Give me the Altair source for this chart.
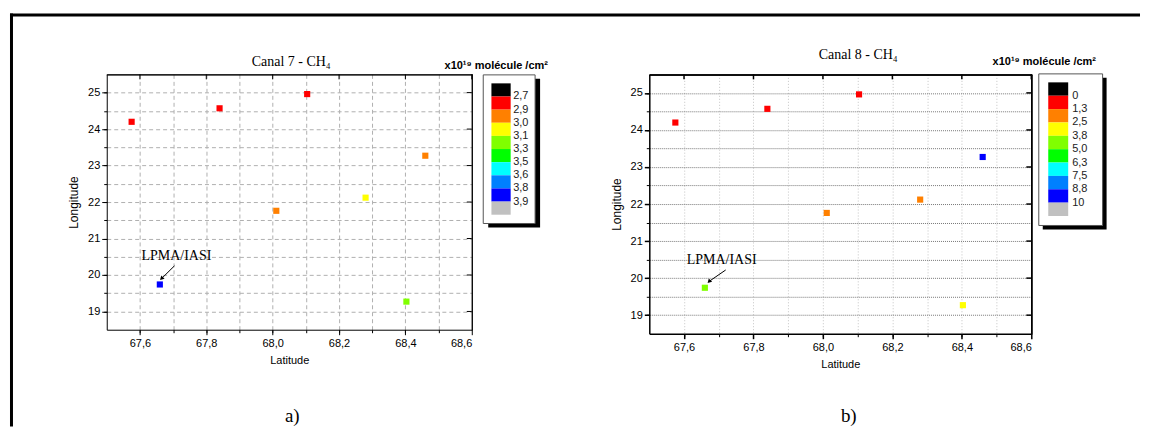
import altair as alt
import pandas as pd

# ---------------- data ----------------
LAT = [67.575, 67.84, 68.104, 68.46, 68.011, 68.28, 68.403, 67.66]
LON = [24.20, 24.57, 24.96, 23.27, 21.76, 22.12, 19.27, 19.74]
CLASS_A = [1, 1, 1, 2, 2, 3, 4, 8]
CLASS_B = [1, 1, 1, 8, 2, 2, 3, 4]
PALETTE = ["#000000", "#ff0000", "#ff8000", "#ffff00", "#80ff00",
           "#00ff00", "#00ffff", "#0080ff", "#0000ff", "#c0c0c0"]
CLASSES = list(range(10))
LABELS_A = ["2,7", "2,9", "3,0", "3,1", "3,3", "3,5", "3,6", "3,8", "3,9"]
LABELS_B = ["0", "1,3", "2,5", "3,8", "5,0", "6,3", "7,5", "8,8", "10"]
X_MAJOR = [67.6, 67.8, 68.0, 68.2, 68.4, 68.6]
X_MINOR = [67.6, 67.7, 67.8, 67.9, 68.0, 68.1, 68.2, 68.3, 68.4, 68.5]
Y_MAJOR = [19, 20, 21, 22, 23, 24, 25]
Y_MINOR = [19, 19.5, 20, 20.5, 21, 21.5, 22, 22.5, 23, 23.5, 24, 24.5, 25]
X_DOMAIN = [67.5, 68.6]
Y_DOMAIN = [18.5, 25.5]
ANNOT = "LPMA/IASI"
ANNOT_A = {"lat": [67.605], "lon": [20.40], "lat0": [67.704], "lon0": [20.25], "lat1": [67.665], "lon1": [19.90]}
ANNOT_B = {"lat": [67.608], "lon": [20.38], "lat0": [67.72], "lon0": [20.22], "lat1": [67.672], "lon1": [19.91]}
TITLE_A = "Canal 7 - CH₄"
TITLE_B = "Canal 8 - CH₄"
UNIT = "x10¹⁹ molécule /cm²"

SANS = "Liberation Sans"
SERIF = "Liberation Serif"
ONE = pd.DataFrame({"k": [0]})


def lbl_x():
    return "replace(format(datum.value, '.1f'), '.', ',')"


def panel(cls, W, H, title, tpos, caption, cpos, grid_x, grid_y, ann, frame_w, frame=False):
    df = pd.DataFrame({"lat": LAT, "lon": LON, "cls": cls})
    xs = alt.Scale(domain=X_DOMAIN, nice=False, zero=False)
    ys = alt.Scale(domain=Y_DOMAIN, nice=False, zero=False)
    base = alt.Chart(df)

    grid_layer = base.mark_point(opacity=0).encode(
        x=alt.X("lat:Q", scale=xs, axis=alt.Axis(
            orient="bottom", values=X_MINOR, grid=True, gridColor=grid_x[0], gridDash=grid_x[1],
            gridWidth=1, labels=False, ticks=True, tickSize=3, tickColor="black",
            domain=False, title=None)),
        y=alt.Y("lon:Q", scale=ys, axis=alt.Axis(
            orient="left", values=Y_MINOR, grid=True, gridColor=grid_y[0], gridDash=grid_y[1],
            gridWidth=1, labels=False, ticks=True, tickSize=3, tickColor="black",
            domain=False, title=None)),
    )

    # top / right frame as axes (domain line only)
    frame_axes = base.mark_point(opacity=0).encode(
        x=alt.X("lat:Q", scale=xs, axis=alt.Axis(
            orient="top", values=X_MAJOR, grid=False, labels=False, ticks=False,
            domain=True, domainColor="black", domainWidth=frame_w, title=None)),
        y=alt.Y("lon:Q", scale=ys, axis=alt.Axis(
            orient="right", values=Y_MAJOR, grid=False, labels=False, ticks=False,
            domain=True, domainColor="black", domainWidth=frame_w, title=None)),
    )

    # same frame drawn as marks (half-pixel aligned)
    top_edge = alt.Chart(ONE).mark_rule(color="black", strokeWidth=frame_w).encode(
        x=alt.value(0), x2=alt.value(W + 1), y=alt.value(0.5))
    right_edge = alt.Chart(ONE).mark_rule(color="black", strokeWidth=frame_w).encode(
        x=alt.value(W + 0.5), y=alt.value(0), y2=alt.value(H + 1))

    # inward ticks on the top and right frame
    top_ticks = alt.Chart(pd.DataFrame({"v": X_MAJOR})).mark_rule(
        color="black", strokeWidth=frame_w).encode(
        x=alt.X("v:Q", scale=xs, axis=None), y=alt.value(0), y2=alt.value(5))
    right_ticks = alt.Chart(pd.DataFrame({"v": Y_MAJOR})).mark_rule(
        color="black", strokeWidth=frame_w).encode(
        y=alt.Y("v:Q", scale=ys, axis=None), x=alt.value(W - 5), x2=alt.value(W))

    pts = base.mark_square(size=38, opacity=1).encode(
        x=alt.X("lat:Q", scale=xs, axis=alt.Axis(
            orient="bottom", values=X_MAJOR, labelExpr=lbl_x(), grid=False,
            tickSize=5, tickColor="black", tickWidth=frame_w, domain=True, domainColor="black",
            domainWidth=frame_w, labelPadding=3, title="Latitude", titlePadding=6)),
        y=alt.Y("lon:Q", scale=ys, axis=alt.Axis(
            orient="left", values=Y_MAJOR, format=".0f", grid=False,
            tickSize=5, tickColor="black", tickWidth=frame_w, domain=True, domainColor="black",
            domainWidth=frame_w, labelPadding=2, title="Longitude", titlePadding=7,
            titleFontSize=12)),
        color=alt.Color("cls:O", scale=alt.Scale(domain=CLASSES, range=PALETTE), legend=None),
    )

    adf = pd.DataFrame(ann)
    arrow = alt.Chart(adf).mark_rule(color="black", strokeWidth=1).encode(
        x=alt.X("lat0:Q", scale=xs, axis=None), y=alt.Y("lon0:Q", scale=ys, axis=None),
        x2="lat1:Q", y2="lon1:Q")
    head = alt.Chart(adf).mark_point(shape="triangle-up", filled=True, color="black",
                                     size=22, angle=225, opacity=1).encode(
        x=alt.X("lat1:Q", scale=xs, axis=None), y=alt.Y("lon1:Q", scale=ys, axis=None))
    atext = alt.Chart(adf).mark_text(text=ANNOT, font=SERIF, fontSize=14, align="left",
                                     baseline="alphabetic", color="black").encode(
        x=alt.X("lat:Q", scale=xs, axis=None), y=alt.Y("lon:Q", scale=ys, axis=None))

    ttl = alt.Chart(ONE).mark_text(text=title, font=SERIF, fontSize=14, align="center",
                                   baseline="alphabetic", color="black").encode(
        x=alt.value(tpos[0]), y=alt.value(tpos[1]))
    cap = alt.Chart(ONE).mark_text(text=caption, font=SERIF, fontSize=19, align="center",
                                   baseline="alphabetic", color="black").encode(
        x=alt.value(cpos[0]), y=alt.value(cpos[1]))

    layers = [grid_layer, frame_axes, pts, arrow, head, atext, ttl, cap,
              top_edge, right_edge, top_ticks, right_ticks]
    if frame:
        left = alt.Chart(ONE).mark_rule(color="black", strokeWidth=3).encode(
            x=alt.value(-95.5), y=alt.value(-61), y2=alt.value(353))
        top = alt.Chart(ONE).mark_rule(color="black", strokeWidth=3).encode(
            x=alt.value(-97), x2=alt.value(1036), y=alt.value(-59.5))
        layers += [left, top]
    return alt.layer(*layers).resolve_axis(x="independent", y="independent").properties(
        width=W, height=H)


def legend_panel(labels, W, H, box, shadow, sw_x, sw_y, lab_x, tpos):
    sw = pd.DataFrame({"idx": CLASSES})
    lab = pd.DataFrame({"idx": CLASSES[:9], "label": labels})
    ys = alt.Scale(domain=CLASSES, range=sw_y, paddingInner=0, paddingOuter=0)
    sh = alt.Chart(ONE).mark_rect(color="black").encode(
        x=alt.value(shadow[0]), x2=alt.value(shadow[1]), y=alt.value(shadow[2]), y2=alt.value(shadow[3]))
    bx = alt.Chart(ONE).mark_rect(fill="white", stroke="#555", strokeWidth=1).encode(
        x=alt.value(box[0]), x2=alt.value(box[1]), y=alt.value(box[2]), y2=alt.value(box[3]))
    swatch = alt.Chart(sw).mark_rect().encode(
        x=alt.value(sw_x[0]), x2=alt.value(sw_x[1]),
        y=alt.Y("idx:O", scale=ys, axis=None),
        color=alt.Color("idx:O", scale=alt.Scale(domain=CLASSES, range=PALETTE), legend=None))
    txt = alt.Chart(lab).mark_text(align="left", baseline="middle", font=SANS, fontSize=11,
                                   color="#222").encode(
        x=alt.value(lab_x), y=alt.Y("idx:O", scale=ys, axis=None, bandPosition=1), text="label:N")
    ttl = alt.Chart(ONE).mark_text(text=UNIT, font=SANS, fontSize=11, fontWeight="bold",
                                   align="center", baseline="alphabetic", color="black").encode(
        x=alt.value(tpos[0]), y=alt.value(tpos[1]))
    return alt.layer(sh, bx, swatch, txt, ttl).properties(width=W, height=H)


A = panel(CLASS_A, 366, 256, TITLE_A, (185, -8.7), "a)", (186, 349),
          ("#b0b0b0", [4, 3]), ("#b0b0b0", [4, 3]), ANNOT_A, 1, frame=True)
LA = legend_panel(LABELS_A, 178, 256, (11.5, 63.5, 0.5, 149.5), (16.5, 68.5, 4.5, 153.5),
                  (19.7, 39), [9, 140.7], 41.5, (24.5, -5.3))
B = panel(CLASS_B, 383, 260, TITLE_B, (209.5, -15.3), "b)", (200, 349),
          ("#c4c4c4", [1, 2]), ("#777777", [1, 1]), ANNOT_B, 1.5)
LB = legend_panel(LABELS_B, 80, 260, (7.5, 71.5, -0.5, 151.5), (11.5, 75.5, 3.5, 155.5),
                  (17, 37), [8, 142], 41, (13, -9.3))

chart = alt.hconcat(A, LA, B, LB, spacing=0, bounds="flush").properties(
    padding={"left": 0, "top": 3, "right": 0, "bottom": 0}
).configure_view(strokeWidth=0).configure_axis(
    labelFont=SANS, labelFontSize=11, labelColor="black",
    titleFont=SANS, titleFontSize=11, titleFontWeight="normal", titleColor="black",
)

chart.save("out.html", embed_options={"renderer": "svg", "actions": False})
